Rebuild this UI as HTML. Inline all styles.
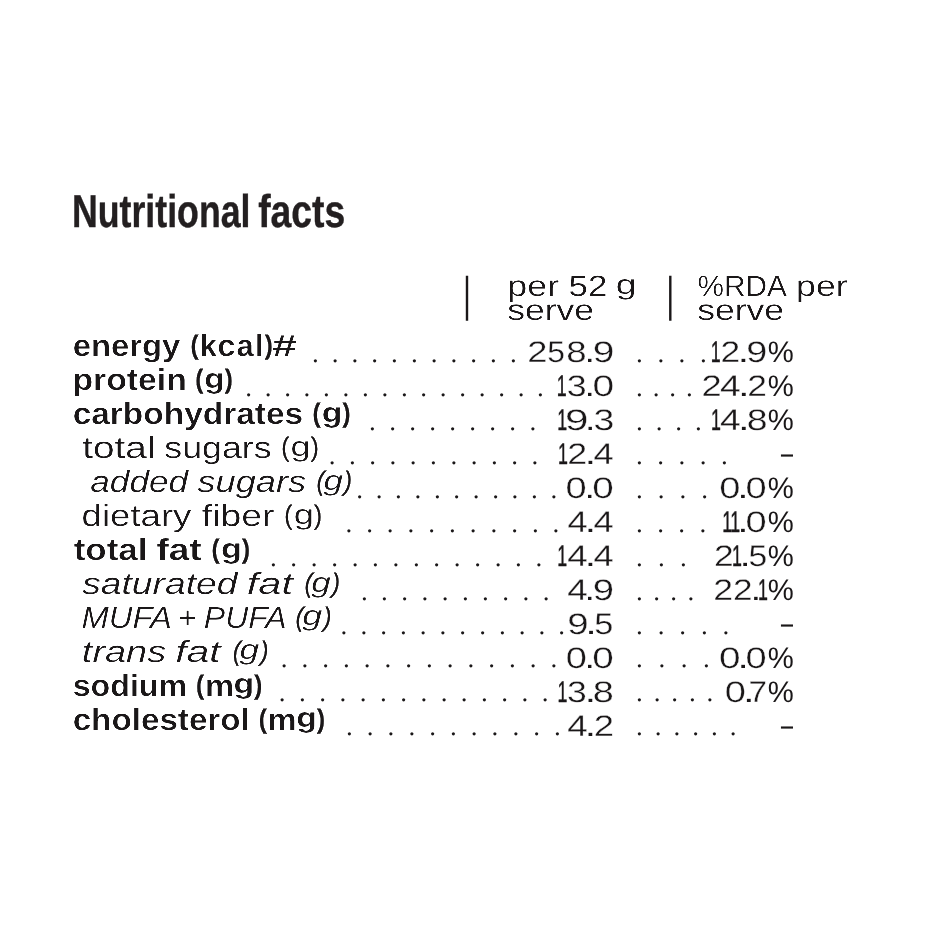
<!DOCTYPE html>
<html lang="en">
<head>
<meta charset="utf-8">
<title>Nutritional facts</title>
<style>
html,body{margin:0;padding:0;background:#fff;}
body{width:940px;height:940px;overflow:hidden;position:relative;}
svg{display:block;position:absolute;left:0;top:0;}
text{font-family:"Liberation Sans",sans-serif;fill:#231f20;white-space:pre;text-rendering:geometricPrecision;}
.b{font-weight:700;}
.i{font-style:italic;}
.l,.h{fill:#1a1718;filter:url(#fr);}
.l.b{filter:url(#fb);}
.l.i{filter:url(#fr);}
.n{fill:#1a1718;filter:none;}
.e{stroke:#fff;stroke-width:0.3px;}
.d{filter:none;}
.dots{font-family:"Liberation Serif",serif;font-size:27px;fill:#1a1718;}
.p{stroke:#1a1718;stroke-width:0.6px;}
.i .p{stroke-width:0.6px;}
.o{stroke:#1a1718;stroke-width:0.5px;}
.title{stroke:#231f20;stroke-width:0.4px;}
.rule{fill:#1a1718;}
</style>
</head>
<body>
<svg width="940" height="940" viewBox="0 0 940 940" role="img" aria-label="Nutritional facts">
<rect width="940" height="940" fill="#ffffff"/>
<defs>
<filter id="fb" x="-2%" y="-15%" width="104%" height="130%" color-interpolation-filters="sRGB"><feGaussianBlur stdDeviation="0.6 0.3"/><feComponentTransfer><feFuncA type="linear" slope="2.0" intercept="-0.940"/></feComponentTransfer></filter>
<filter id="fr" x="-2%" y="-15%" width="104%" height="130%" color-interpolation-filters="sRGB"><feGaussianBlur stdDeviation="0.55 0"/><feComponentTransfer><feFuncA type="linear" slope="2.0" intercept="-0.860"/></feComponentTransfer></filter>
</defs>
<g id="heading">
<text class="title b" font-size="46.0"><tspan x="71.98" y="226.80" textLength="178.50" lengthAdjust="spacingAndGlyphs">Nutritional</tspan> <tspan x="258.14" y="226.80" textLength="87.14" lengthAdjust="spacingAndGlyphs">facts</tspan></text>
</g>
<g id="columns">
<rect class="rule" x="465.8" y="275.75" width="2.4" height="45"/>
<text class="h" font-size="29.5"><tspan x="507.37" y="296.00" textLength="51.78" lengthAdjust="spacingAndGlyphs">per</tspan> <tspan x="568.61" y="296.00" textLength="38.71" lengthAdjust="spacingAndGlyphs">52</tspan> <tspan font-size="27.8" x="615.71" y="293.80" textLength="20.76" lengthAdjust="spacingAndGlyphs">g</tspan></text>
<text class="h" font-size="29.5"><tspan x="507.23" y="320.10" textLength="86.88" lengthAdjust="spacingAndGlyphs">serve</tspan></text>
<rect class="rule" x="669.1" y="275.75" width="2.4" height="45"/>
<text class="h" font-size="29.5"><tspan x="697.58" y="296.00" textLength="87.64" lengthAdjust="spacingAndGlyphs">%RDA</tspan> <tspan x="796.09" y="296.00" textLength="51.46" lengthAdjust="spacingAndGlyphs">per</tspan></text>
<text class="h" font-size="29.5"><tspan x="697.18" y="320.10" textLength="86.93" lengthAdjust="spacingAndGlyphs">serve</tspan></text>
</g>
<g class="row">
<text class="l b" font-size="30.5"><tspan x="72.69" y="356.00" textLength="107.55" lengthAdjust="spacingAndGlyphs">energy</tspan> <tspan class="p" font-size="26.95" x="190.39" y="354.15" textLength="8.08" lengthAdjust="spacingAndGlyphs">(</tspan><tspan x="199.78" y="356.00" textLength="16.86" lengthAdjust="spacingAndGlyphs">k</tspan><tspan x="217.29" y="356.00" textLength="18.23" lengthAdjust="spacingAndGlyphs">c</tspan><tspan x="236.57" y="356.00" textLength="17.21" lengthAdjust="spacingAndGlyphs">a</tspan><tspan x="255.12" y="356.00" textLength="8.65" lengthAdjust="spacingAndGlyphs">l</tspan><tspan class="p" font-size="26.95" x="264.68" y="354.15" textLength="8.08" lengthAdjust="spacingAndGlyphs">)</tspan><tspan x="272.34" y="356.00" textLength="24.58" lengthAdjust="spacingAndGlyphs">#</tspan></text>
<text class="dots" x="311.93 331.72 351.51 371.31 391.11 410.90 430.69 450.49 470.28 490.08 509.88" y="361.81">...........</text>
<text class="n" font-size="29.7"><tspan class="e" x="527.19" y="362.10" textLength="20.17" lengthAdjust="spacingAndGlyphs">2</tspan><tspan class="e" x="547.23" y="362.10" textLength="17.68" lengthAdjust="spacingAndGlyphs">5</tspan><tspan class="e" x="566.25" y="362.10" textLength="20.35" lengthAdjust="spacingAndGlyphs">8</tspan><tspan x="584.88" y="362.10" textLength="9.95" lengthAdjust="spacingAndGlyphs">.</tspan><tspan class="e" x="592.75" y="362.10" textLength="21.65" lengthAdjust="spacingAndGlyphs">9</tspan></text>
<text class="dots" x="636.12 657.38 678.62 699.88" y="361.81">....</text>
<text class="n" font-size="29.7"><tspan class="o" x="710.80" y="362.10" textLength="9.91" lengthAdjust="spacingAndGlyphs">1</tspan><tspan class="e" x="720.53" y="362.10" textLength="19.68" lengthAdjust="spacingAndGlyphs">2</tspan><tspan x="738.09" y="362.10" textLength="10.82" lengthAdjust="spacingAndGlyphs">.</tspan><tspan class="e" x="746.30" y="362.10" textLength="21.05" lengthAdjust="spacingAndGlyphs">9</tspan><tspan x="767.68" y="362.10" textLength="26.03" lengthAdjust="spacingAndGlyphs">%</tspan></text>
</g>
<g class="row">
<text class="l b" font-size="30.5"><tspan x="72.41" y="389.96" textLength="114.34" lengthAdjust="spacingAndGlyphs">protein</tspan> <tspan class="p" font-size="26.95" x="195.22" y="388.11" textLength="8.08" lengthAdjust="spacingAndGlyphs">(</tspan><tspan font-size="27.8" x="204.39" y="387.76" textLength="20.39" lengthAdjust="spacingAndGlyphs">g</tspan><tspan class="p" font-size="26.95" x="224.81" y="388.11" textLength="8.08" lengthAdjust="spacingAndGlyphs">)</tspan></text>
<text class="dots" x="245.22 264.69 284.14 303.61 323.06 342.52 361.99 381.44 400.90 420.37 439.82 459.28 478.75 498.20 517.66 537.12" y="395.77">................</text>
<text class="n" font-size="29.7"><tspan class="o" x="556.70" y="396.06" textLength="9.91" lengthAdjust="spacingAndGlyphs">1</tspan><tspan class="e" x="566.67" y="396.06" textLength="19.88" lengthAdjust="spacingAndGlyphs">3</tspan><tspan x="584.88" y="396.06" textLength="9.95" lengthAdjust="spacingAndGlyphs">.</tspan><tspan class="e" x="592.54" y="396.06" textLength="21.66" lengthAdjust="spacingAndGlyphs">0</tspan></text>
<text class="dots" x="636.12 652.71 669.29 685.88" y="395.77">....</text>
<text class="n" font-size="29.7"><tspan class="e" x="701.49" y="396.06" textLength="20.17" lengthAdjust="spacingAndGlyphs">2</tspan><tspan class="e" x="719.97" y="396.06" textLength="20.69" lengthAdjust="spacingAndGlyphs">4</tspan><tspan x="738.20" y="396.06" textLength="11.12" lengthAdjust="spacingAndGlyphs">.</tspan><tspan class="e" x="747.33" y="396.06" textLength="19.68" lengthAdjust="spacingAndGlyphs">2</tspan><tspan x="767.68" y="396.06" textLength="26.03" lengthAdjust="spacingAndGlyphs">%</tspan></text>
</g>
<g class="row">
<text class="l b" font-size="30.5"><tspan x="72.66" y="423.92" textLength="230.48" lengthAdjust="spacingAndGlyphs">carbohydrates</tspan> <tspan class="p" font-size="26.95" x="312.54" y="422.07" textLength="8.08" lengthAdjust="spacingAndGlyphs">(</tspan><tspan font-size="27.8" x="321.75" y="421.72" textLength="20.56" lengthAdjust="spacingAndGlyphs">g</tspan><tspan class="p" font-size="26.95" x="342.38" y="422.07" textLength="8.08" lengthAdjust="spacingAndGlyphs">)</tspan></text>
<text class="dots" x="369.12 389.16 409.19 429.22 449.25 469.28 489.31 509.34 529.38" y="429.74">.........</text>
<text class="n" font-size="29.7"><tspan class="o" x="557.25" y="430.02" textLength="9.91" lengthAdjust="spacingAndGlyphs">1</tspan><tspan class="e" x="565.00" y="430.02" textLength="23.44" lengthAdjust="spacingAndGlyphs">9</tspan><tspan x="585.38" y="430.02" textLength="9.95" lengthAdjust="spacingAndGlyphs">.</tspan><tspan class="e" x="593.50" y="430.02" textLength="20.83" lengthAdjust="spacingAndGlyphs">3</tspan></text>
<text class="dots" x="636.12 655.71 675.29 694.88" y="429.74">....</text>
<text class="n" font-size="29.7"><tspan class="o" x="710.90" y="430.02" textLength="9.91" lengthAdjust="spacingAndGlyphs">1</tspan><tspan class="e" x="719.97" y="430.02" textLength="20.69" lengthAdjust="spacingAndGlyphs">4</tspan><tspan x="738.20" y="430.02" textLength="11.12" lengthAdjust="spacingAndGlyphs">.</tspan><tspan class="e" x="746.81" y="430.02" textLength="20.83" lengthAdjust="spacingAndGlyphs">8</tspan><tspan x="767.68" y="430.02" textLength="26.03" lengthAdjust="spacingAndGlyphs">%</tspan></text>
</g>
<g class="row">
<text class="l" font-size="30.5"><tspan x="82.22" y="457.88" textLength="73.31" lengthAdjust="spacingAndGlyphs">total</tspan> <tspan x="164.33" y="457.88" textLength="107.28" lengthAdjust="spacingAndGlyphs">sugars</tspan> <tspan class="p" font-size="26.95" x="281.29" y="456.03" textLength="8.08" lengthAdjust="spacingAndGlyphs">(</tspan><tspan font-size="27.8" x="290.58" y="455.68" textLength="20.08" lengthAdjust="spacingAndGlyphs">g</tspan><tspan class="p" font-size="26.95" x="310.65" y="456.03" textLength="8.08" lengthAdjust="spacingAndGlyphs">)</tspan></text>
<text class="dots" x="328.73 349.00 369.29 389.56 409.85 430.12 450.40 470.69 490.96 511.25 531.52" y="463.69">...........</text>
<text class="n" font-size="29.7"><tspan class="o" x="558.10" y="463.98" textLength="9.91" lengthAdjust="spacingAndGlyphs">1</tspan><tspan class="e" x="567.31" y="463.98" textLength="19.92" lengthAdjust="spacingAndGlyphs">2</tspan><tspan x="585.09" y="463.98" textLength="10.82" lengthAdjust="spacingAndGlyphs">.</tspan><tspan class="e" x="593.60" y="463.98" textLength="20.13" lengthAdjust="spacingAndGlyphs">4</tspan></text>
<text class="dots" x="636.12 657.33 678.52 699.72 720.92" y="463.69">.....</text>
<text class="n d" y="463.08" font-size="28.13"><tspan x="778.68" textLength="16.45" lengthAdjust="spacingAndGlyphs">-</tspan></text>
</g>
<g class="row">
<text class="l i" font-size="30.5"><tspan x="90.32" y="491.84" textLength="97.73" lengthAdjust="spacingAndGlyphs">added</tspan> <tspan x="197.42" y="491.84" textLength="108.76" lengthAdjust="spacingAndGlyphs">sugars</tspan> <tspan class="p" font-size="26.95" x="316.53" y="489.99" textLength="8.08" lengthAdjust="spacingAndGlyphs">(</tspan><tspan font-size="27.8" x="323.40" y="489.64" textLength="19.60" lengthAdjust="spacingAndGlyphs">g</tspan><tspan class="p" font-size="26.95" x="344.10" y="489.99" textLength="8.08" lengthAdjust="spacingAndGlyphs">)</tspan></text>
<text class="dots" x="356.23 375.65 395.06 414.49 433.90 453.32 472.75 492.16 511.59 531.00 550.42" y="497.66">...........</text>
<text class="n" font-size="29.7"><tspan class="e" x="565.48" y="497.94" textLength="21.19" lengthAdjust="spacingAndGlyphs">0</tspan><tspan x="584.88" y="497.94" textLength="9.95" lengthAdjust="spacingAndGlyphs">.</tspan><tspan class="e" x="592.35" y="497.94" textLength="21.54" lengthAdjust="spacingAndGlyphs">0</tspan></text>
<text class="dots" x="636.12 657.83 679.52 701.23" y="497.66">....</text>
<text class="n" font-size="29.7"><tspan class="e" x="719.38" y="497.94" textLength="21.19" lengthAdjust="spacingAndGlyphs">0</tspan><tspan x="737.59" y="497.94" textLength="10.82" lengthAdjust="spacingAndGlyphs">.</tspan><tspan class="e" x="745.58" y="497.94" textLength="21.19" lengthAdjust="spacingAndGlyphs">0</tspan><tspan x="767.68" y="497.94" textLength="26.03" lengthAdjust="spacingAndGlyphs">%</tspan></text>
</g>
<g class="row">
<text class="l" font-size="30.5"><tspan x="81.64" y="525.80" textLength="109.72" lengthAdjust="spacingAndGlyphs">dietary</tspan> <tspan x="201.84" y="525.80" textLength="72.53" lengthAdjust="spacingAndGlyphs">fiber</tspan> <tspan class="p" font-size="26.95" x="284.31" y="523.95" textLength="8.08" lengthAdjust="spacingAndGlyphs">(</tspan><tspan font-size="27.8" x="293.65" y="523.60" textLength="20.26" lengthAdjust="spacingAndGlyphs">g</tspan><tspan class="p" font-size="26.95" x="313.92" y="523.95" textLength="8.08" lengthAdjust="spacingAndGlyphs">)</tspan></text>
<text class="dots" x="345.43 366.14 386.87 407.58 428.31 449.02 469.75 490.47 511.18 531.90 552.62" y="531.62">...........</text>
<text class="n" font-size="29.7"><tspan class="e" x="567.50" y="531.90" textLength="20.13" lengthAdjust="spacingAndGlyphs">4</tspan><tspan x="585.09" y="531.90" textLength="10.82" lengthAdjust="spacingAndGlyphs">.</tspan><tspan class="e" x="593.60" y="531.90" textLength="20.13" lengthAdjust="spacingAndGlyphs">4</tspan></text>
<text class="dots" x="636.12 657.23 678.32 699.42" y="531.62">....</text>
<text class="n" font-size="29.7"><tspan class="o" x="722.20" y="531.90" textLength="9.91" lengthAdjust="spacingAndGlyphs">1</tspan><tspan class="o" x="730.25" y="531.90" textLength="9.91" lengthAdjust="spacingAndGlyphs">1</tspan><tspan x="737.59" y="531.90" textLength="10.82" lengthAdjust="spacingAndGlyphs">.</tspan><tspan class="e" x="745.58" y="531.90" textLength="21.19" lengthAdjust="spacingAndGlyphs">0</tspan><tspan x="767.68" y="531.90" textLength="26.03" lengthAdjust="spacingAndGlyphs">%</tspan></text>
</g>
<g class="row">
<text class="l b" font-size="30.5"><tspan x="73.65" y="559.76" textLength="73.83" lengthAdjust="spacingAndGlyphs">total</tspan> <tspan x="156.45" y="559.76" textLength="45.21" lengthAdjust="spacingAndGlyphs">fat</tspan> <tspan class="p" font-size="26.95" x="211.60" y="557.91" textLength="8.08" lengthAdjust="spacingAndGlyphs">(</tspan><tspan font-size="27.8" x="220.90" y="557.56" textLength="20.98" lengthAdjust="spacingAndGlyphs">g</tspan><tspan class="p" font-size="26.95" x="242.02" y="557.91" textLength="8.08" lengthAdjust="spacingAndGlyphs">)</tspan></text>
<text class="dots" x="269.93 290.36 310.79 331.22 351.65 372.08 392.51 412.94 433.37 453.80 474.23 494.66 515.09 535.52" y="565.58">..............</text>
<text class="n" font-size="29.7"><tspan class="o" x="557.25" y="565.86" textLength="9.91" lengthAdjust="spacingAndGlyphs">1</tspan><tspan class="e" x="567.18" y="565.86" textLength="20.47" lengthAdjust="spacingAndGlyphs">4</tspan><tspan x="585.09" y="565.86" textLength="10.82" lengthAdjust="spacingAndGlyphs">.</tspan><tspan class="e" x="593.60" y="565.86" textLength="20.13" lengthAdjust="spacingAndGlyphs">4</tspan></text>
<text class="dots" x="636.12 658.00 679.88" y="565.58">...</text>
<text class="n" font-size="29.7"><tspan class="e" x="714.13" y="565.86" textLength="19.68" lengthAdjust="spacingAndGlyphs">2</tspan><tspan class="o" x="731.95" y="565.86" textLength="9.91" lengthAdjust="spacingAndGlyphs">1</tspan><tspan x="739.69" y="565.86" textLength="10.82" lengthAdjust="spacingAndGlyphs">.</tspan><tspan class="e" x="748.45" y="565.86" textLength="18.73" lengthAdjust="spacingAndGlyphs">5</tspan><tspan x="767.68" y="565.86" textLength="26.03" lengthAdjust="spacingAndGlyphs">%</tspan></text>
</g>
<g class="row">
<text class="l i" font-size="30.5"><tspan x="82.21" y="593.72" textLength="155.24" lengthAdjust="spacingAndGlyphs">saturated</tspan> <tspan x="246.85" y="593.72" textLength="46.08" lengthAdjust="spacingAndGlyphs">fat</tspan> <tspan class="p" font-size="26.95" x="304.51" y="591.87" textLength="8.08" lengthAdjust="spacingAndGlyphs">(</tspan><tspan font-size="27.8" x="311.38" y="591.52" textLength="19.54" lengthAdjust="spacingAndGlyphs">g</tspan><tspan class="p" font-size="26.95" x="332.01" y="591.87" textLength="8.08" lengthAdjust="spacingAndGlyphs">)</tspan></text>
<text class="dots" x="360.88 381.08 401.29 421.49 441.70 461.90 482.11 502.31 522.52 542.73" y="599.54">..........</text>
<text class="n" font-size="29.7"><tspan class="e" x="567.18" y="599.82" textLength="20.47" lengthAdjust="spacingAndGlyphs">4</tspan><tspan x="584.88" y="599.82" textLength="9.95" lengthAdjust="spacingAndGlyphs">.</tspan><tspan class="e" x="592.78" y="599.82" textLength="21.29" lengthAdjust="spacingAndGlyphs">9</tspan></text>
<text class="dots" x="636.12 653.21 670.29 687.38" y="599.54">....</text>
<text class="n" font-size="29.7"><tspan class="e" x="713.22" y="599.82" textLength="19.80" lengthAdjust="spacingAndGlyphs">2</tspan><tspan class="e" x="732.94" y="599.82" textLength="19.56" lengthAdjust="spacingAndGlyphs">2</tspan><tspan x="750.78" y="599.82" textLength="10.24" lengthAdjust="spacingAndGlyphs">.</tspan><tspan class="o" x="757.90" y="599.82" textLength="9.91" lengthAdjust="spacingAndGlyphs">1</tspan><tspan x="767.68" y="599.82" textLength="26.03" lengthAdjust="spacingAndGlyphs">%</tspan></text>
</g>
<g class="row">
<text class="l i" font-size="30.5"><tspan x="81.43" y="627.68" textLength="89.21" lengthAdjust="spacingAndGlyphs">MUFA</tspan> <tspan x="178.06" y="627.68" textLength="18.30" lengthAdjust="spacingAndGlyphs">+</tspan> <tspan x="203.86" y="627.68" textLength="81.50" lengthAdjust="spacingAndGlyphs">PUFA</tspan> <tspan class="p" font-size="26.95" x="295.43" y="625.83" textLength="8.08" lengthAdjust="spacingAndGlyphs">(</tspan><tspan font-size="27.8" x="302.32" y="625.48" textLength="20.00" lengthAdjust="spacingAndGlyphs">g</tspan><tspan class="p" font-size="26.95" x="323.50" y="625.83" textLength="8.08" lengthAdjust="spacingAndGlyphs">)</tspan></text>
<text class="dots" x="340.62 360.42 380.21 400.00 419.79 439.58 459.37 479.16 498.95 518.74 538.53 558.33" y="633.50">............</text>
<text class="n" font-size="29.7"><tspan class="e" x="567.37" y="633.78" textLength="21.41" lengthAdjust="spacingAndGlyphs">9</tspan><tspan x="585.50" y="633.78" textLength="11.12" lengthAdjust="spacingAndGlyphs">.</tspan><tspan class="e" x="594.33" y="633.78" textLength="19.09" lengthAdjust="spacingAndGlyphs">5</tspan></text>
<text class="dots" x="636.12 657.73 679.33 700.92 722.52" y="633.50">.....</text>
<text class="n d" y="632.88" font-size="28.13"><tspan x="778.68" textLength="16.45" lengthAdjust="spacingAndGlyphs">-</tspan></text>
</g>
<g class="row">
<text class="l i" font-size="30.5"><tspan x="81.89" y="661.64" textLength="84.29" lengthAdjust="spacingAndGlyphs">trans</tspan> <tspan x="175.17" y="661.64" textLength="45.48" lengthAdjust="spacingAndGlyphs">fat</tspan> <tspan class="p" font-size="26.95" x="232.76" y="659.79" textLength="8.08" lengthAdjust="spacingAndGlyphs">(</tspan><tspan font-size="27.8" x="239.63" y="659.44" textLength="19.71" lengthAdjust="spacingAndGlyphs">g</tspan><tspan class="p" font-size="26.95" x="260.47" y="659.79" textLength="8.08" lengthAdjust="spacingAndGlyphs">)</tspan></text>
<text class="dots" x="280.82 301.56 322.30 343.04 363.78 384.52 405.26 425.99 446.73 467.47 488.21 508.95 529.69 550.42" y="667.46">..............</text>
<text class="n" font-size="29.7"><tspan class="e" x="565.78" y="667.74" textLength="21.19" lengthAdjust="spacingAndGlyphs">0</tspan><tspan x="584.88" y="667.74" textLength="9.95" lengthAdjust="spacingAndGlyphs">.</tspan><tspan class="e" x="592.35" y="667.74" textLength="21.54" lengthAdjust="spacingAndGlyphs">0</tspan></text>
<text class="dots" x="636.12 658.39 680.66 702.92" y="667.46">....</text>
<text class="n" font-size="29.7"><tspan class="e" x="719.05" y="667.74" textLength="21.54" lengthAdjust="spacingAndGlyphs">0</tspan><tspan x="737.79" y="667.74" textLength="10.82" lengthAdjust="spacingAndGlyphs">.</tspan><tspan class="e" x="745.58" y="667.74" textLength="21.19" lengthAdjust="spacingAndGlyphs">0</tspan><tspan x="767.68" y="667.74" textLength="26.03" lengthAdjust="spacingAndGlyphs">%</tspan></text>
</g>
<g class="row">
<text class="l b" font-size="30.5"><tspan x="72.67" y="695.60" textLength="114.48" lengthAdjust="spacingAndGlyphs">sodium</tspan> <tspan class="p" font-size="26.95" x="196.06" y="693.75" textLength="8.08" lengthAdjust="spacingAndGlyphs">(</tspan><tspan x="204.93" y="695.60" textLength="29.08" lengthAdjust="spacingAndGlyphs">m</tspan><tspan font-size="27.8" x="233.58" y="693.40" textLength="20.69" lengthAdjust="spacingAndGlyphs">g</tspan><tspan class="p" font-size="26.95" x="254.31" y="693.75" textLength="8.08" lengthAdjust="spacingAndGlyphs">)</tspan></text>
<text class="dots" x="278.73 298.96 319.20 339.44 359.68 379.92 400.16 420.39 440.63 460.87 481.11 501.35 521.59 541.83" y="701.42">..............</text>
<text class="n" font-size="29.7"><tspan class="o" x="557.40" y="701.70" textLength="9.91" lengthAdjust="spacingAndGlyphs">1</tspan><tspan class="e" x="566.98" y="701.70" textLength="19.76" lengthAdjust="spacingAndGlyphs">3</tspan><tspan x="585.09" y="701.70" textLength="10.82" lengthAdjust="spacingAndGlyphs">.</tspan><tspan class="e" x="592.80" y="701.70" textLength="21.06" lengthAdjust="spacingAndGlyphs">8</tspan></text>
<text class="dots" x="636.12 653.73 671.33 688.92 706.52" y="701.42">.....</text>
<text class="n" font-size="29.7"><tspan class="e" x="724.68" y="701.70" textLength="21.19" lengthAdjust="spacingAndGlyphs">0</tspan><tspan x="743.30" y="701.70" textLength="11.12" lengthAdjust="spacingAndGlyphs">.</tspan><tspan class="e" x="748.44" y="701.70" textLength="18.46" lengthAdjust="spacingAndGlyphs">7</tspan><tspan x="767.68" y="701.70" textLength="26.03" lengthAdjust="spacingAndGlyphs">%</tspan></text>
</g>
<g class="row">
<text class="l b" font-size="30.5"><tspan x="72.67" y="729.56" textLength="177.15" lengthAdjust="spacingAndGlyphs">cholesterol</tspan> <tspan class="p" font-size="26.95" x="258.66" y="727.71" textLength="8.08" lengthAdjust="spacingAndGlyphs">(</tspan><tspan x="267.53" y="729.56" textLength="29.08" lengthAdjust="spacingAndGlyphs">m</tspan><tspan font-size="27.8" x="296.18" y="727.36" textLength="20.69" lengthAdjust="spacingAndGlyphs">g</tspan><tspan class="p" font-size="26.95" x="316.91" y="727.71" textLength="8.08" lengthAdjust="spacingAndGlyphs">)</tspan></text>
<text class="dots" x="346.02 366.82 387.62 408.42 429.22 450.02 470.82 491.62 512.42 533.22 554.02" y="735.38">...........</text>
<text class="n" font-size="29.7"><tspan class="e" x="567.18" y="735.66" textLength="20.47" lengthAdjust="spacingAndGlyphs">4</tspan><tspan x="585.09" y="735.66" textLength="10.82" lengthAdjust="spacingAndGlyphs">.</tspan><tspan class="e" x="593.88" y="735.66" textLength="20.29" lengthAdjust="spacingAndGlyphs">2</tspan></text>
<text class="dots" x="636.12 654.85 673.57 692.28 711.00 729.73" y="735.38">......</text>
<text class="n d" y="734.76" font-size="28.13"><tspan x="778.68" textLength="16.45" lengthAdjust="spacingAndGlyphs">-</tspan></text>
</g>
</svg>
</body>
</html>
